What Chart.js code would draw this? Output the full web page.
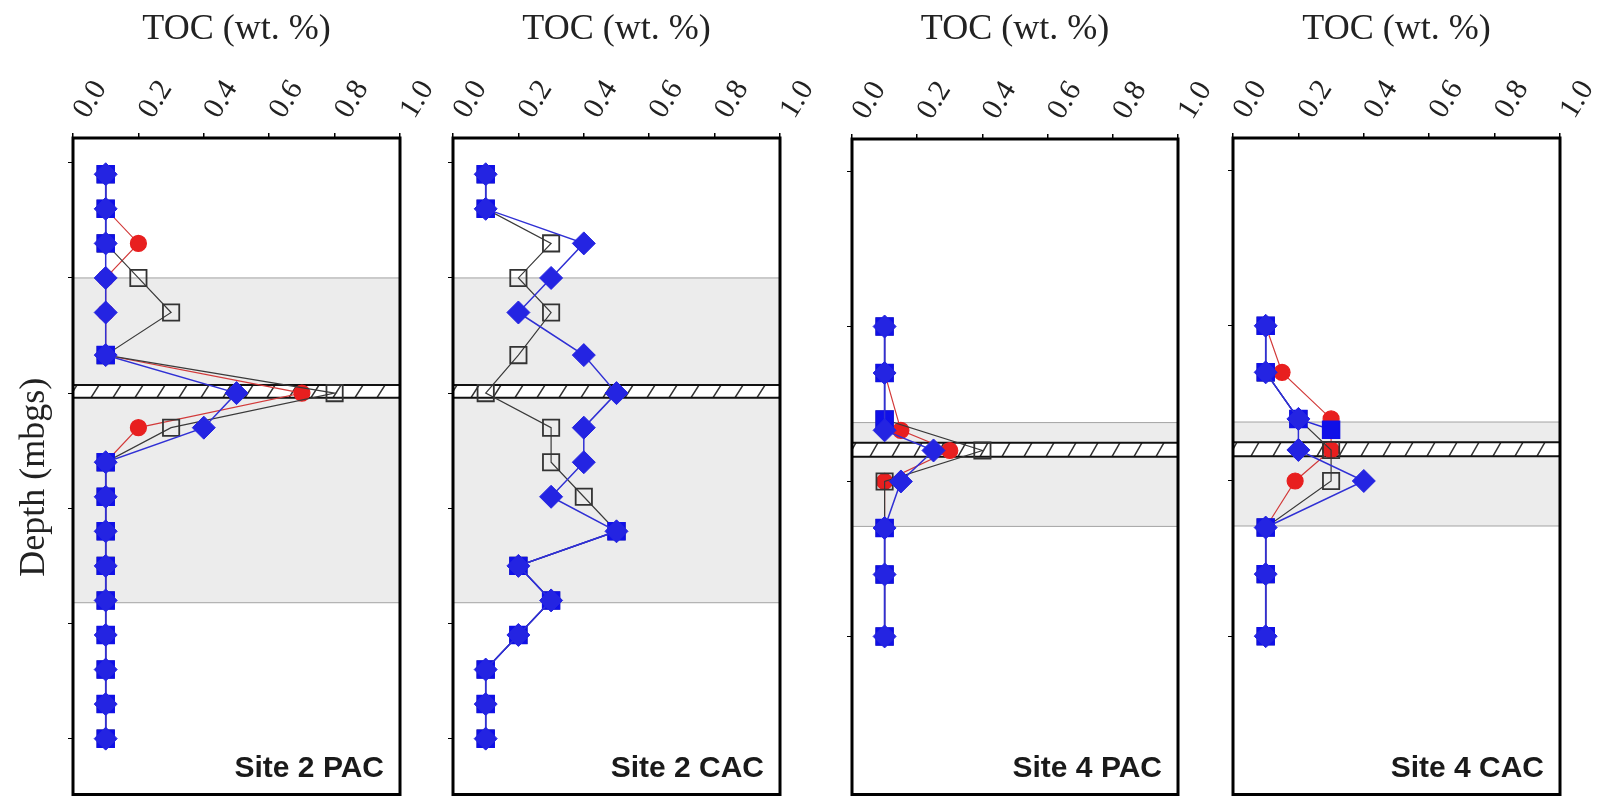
<!doctype html>
<html lang="en">

<head>
    <meta charset="utf-8">
    <title>TOC depth profiles</title>
    <style>
        body { margin: 0; background: #fff; width: 1600px; height: 808px; overflow: hidden; position: relative; }
        canvas { position: absolute; top: 0; }
    </style>
</head>

<body>
    <canvas id="pac2"></canvas>
    <canvas id="cac2"></canvas>
    <canvas id="pac4"></canvas>
    <canvas id="cac4"></canvas>

    <script src="https://cdn.jsdelivr.net/npm/chart.js@4.4.0/dist/chart.umd.min.js"></script>
    <script>
        // sample depths (m below ground surface)
        const depth2 = [1.1, 1.4, 1.7, 2.0, 2.3, 2.67, 3.0, 3.3, 3.6, 3.9, 4.2, 4.5, 4.8, 5.1, 5.4, 5.7, 6.0];
        const depth4 = [2.0, 2.3, 2.6, 2.67, 2.8, 3.0, 3.3, 3.6, 4.0];

        // TOC (wt. %) - Site 2 PAC
        const pac2Red     = [0.1, 0.1, 0.2, 0.1, 0.1, 0.1, 0.7, 0.2, 0.1, 0.1, 0.1, 0.1, 0.1, 0.1, 0.1, 0.1, 0.1];
        const pac2Open    = [0.1, 0.1, 0.1, 0.2, 0.3, 0.1, 0.8, 0.3, 0.1, 0.1, 0.1, 0.1, 0.1, 0.1, 0.1, 0.1, 0.1];
        const pac2Diamond = [0.1, 0.1, 0.1, 0.1, 0.1, 0.1, 0.5, 0.4, 0.1, 0.1, 0.1, 0.1, 0.1, 0.1, 0.1, 0.1, 0.1];
        const pac2Square  = [0.1, 0.1, 0.1, null, null, 0.1, null, null, 0.1, 0.1, 0.1, 0.1, 0.1, 0.1, 0.1, 0.1, 0.1];

        // Site 2 CAC
        const cac2Red     = [null, null, null, null, null, null, null, null, null, null, null, null, null, null, null, null, null];
        const cac2Open    = [0.1, 0.1, 0.3, 0.2, 0.3, 0.2, 0.1, 0.3, 0.3, 0.4, 0.5, 0.2, 0.3, 0.2, 0.1, 0.1, 0.1];
        const cac2Diamond = [0.1, 0.1, 0.4, 0.3, 0.2, 0.4, 0.5, 0.4, 0.4, 0.3, 0.5, 0.2, 0.3, 0.2, 0.1, 0.1, 0.1];
        const cac2Square  = [0.1, 0.1, null, null, null, null, null, null, null, null, 0.5, 0.2, 0.3, 0.2, 0.1, 0.1, 0.1];

        // Site 4 PAC
        const pac4Red     = [0.1, 0.1, null, 0.15, 0.3, 0.1, 0.1, 0.1, 0.1];
        const pac4Open    = [0.1, 0.1, 0.1, null, 0.4, 0.1, 0.1, 0.1, 0.1];
        const pac4Diamond = [0.1, 0.1, null, 0.1, 0.25, 0.15, 0.1, 0.1, 0.1];
        const pac4Square  = [0.1, 0.1, 0.1, null, null, null, 0.1, 0.1, 0.1];

        // Site 4 CAC
        const cac4Red     = [0.1, 0.15, 0.3, null, 0.3, 0.19, 0.1, 0.1, 0.1];
        const cac4Open    = [0.1, 0.1, 0.2, null, 0.3, 0.3, 0.1, 0.1, 0.1];
        const cac4Diamond = [0.1, 0.1, 0.2, null, 0.2, 0.4, 0.1, 0.1, 0.1];
        const cac4Square  = [0.1, 0.1, 0.2, 0.3, null, null, 0.1, 0.1, 0.1];

        // depth intervals: shaded zone and hatched layer
        const shade2 = [2.0, 4.82];
        const hatch2 = [2.93, 3.04];
        const shade4 = [2.62, 3.29];
        const hatch4 = [2.75, 2.84];

        const xTicks = [0, 0.2, 0.4, 0.6, 0.8, 1.0];
        const yTicks2 = [1, 2, 3, 4, 5, 6];
        const yTicks4 = [1, 2, 3, 4];
        const yRange2 = [0.785, 6.485];
        const yRange4 = [0.79, 5.02];

        const siteLabels = ['Site 2 PAC', 'Site 2 CAC', 'Site 4 PAC', 'Site 4 CAC'];
        const xTitle = 'TOC (wt. %)';
        const yTitle = 'Depth (mbgs)';

        const serif = '"Liberation Serif", "DejaVu Serif", serif';
        const AXIS_W = 70;
        const PAD_R = 50;

        const redStyle = {
            pointStyle: 'circle', pointRadius: 8, pointBackgroundColor: '#e81f1f', pointBorderColor: '#e81f1f',
            borderColor: '#d23a3a', borderWidth: 1.2, spanGaps: true
        };
        const openStyle = {
            pointStyle: 'rect', pointRadius: 11.5, pointBackgroundColor: 'rgba(0,0,0,0)', pointBorderColor: '#333',
            pointBorderWidth: 1.8, borderColor: '#3a3a3a', borderWidth: 1.2, spanGaps: true
        };
        const diamondStyle = {
            pointStyle: 'rectRot', pointRadius: 11.5, pointBackgroundColor: '#2424e2', pointBorderColor: '#2424e2',
            pointBorderWidth: 1, borderColor: '#3030d4', borderWidth: 1.5, spanGaps: true
        };
        const squareStyle = {
            pointStyle: 'rect', pointRadius: 12, pointBackgroundColor: '#1010e8', pointBorderColor: '#1010e8',
            pointBorderWidth: 1.5, borderColor: '#2a2ad8', borderWidth: 1.5, spanGaps: false
        };

        function series(depths, values, style) {
            return Object.assign({ data: depths.map((d, i) => ({ x: values[i], y: d })), tension: 0, fill: false }, style);
        }

        const panelDecor = {
            id: 'panelDecor',
            beforeDatasetsDraw(chart, args, opts) {
                const { ctx, chartArea: a, scales: { y } } = chart;
                ctx.save();
                const g0 = y.getPixelForValue(opts.shade[0]);
                const g1 = y.getPixelForValue(opts.shade[1]);
                ctx.fillStyle = '#ececec';
                ctx.fillRect(a.left, g0, a.width, g1 - g0);
                ctx.strokeStyle = '#a3a3a3';
                ctx.lineWidth = 1;
                ctx.beginPath();
                ctx.moveTo(a.left, g0); ctx.lineTo(a.right, g0);
                ctx.moveTo(a.left, g1); ctx.lineTo(a.right, g1);
                ctx.stroke();

                const h0 = y.getPixelForValue(opts.hatch[0]);
                const h1 = y.getPixelForValue(opts.hatch[1]);
                ctx.fillStyle = '#fff';
                ctx.fillRect(a.left, h0, a.width, h1 - h0);
                ctx.save();
                ctx.beginPath();
                ctx.rect(a.left, h0, a.width, h1 - h0);
                ctx.clip();
                ctx.strokeStyle = '#333';
                ctx.lineWidth = 1.5;
                ctx.beginPath();
                for (let x = a.left - 4; x < a.right + 10; x += 22) {
                    ctx.moveTo(x, h1);
                    ctx.lineTo(x + 8, h0);
                }
                ctx.stroke();
                ctx.restore();
                ctx.strokeStyle = '#111';
                ctx.lineWidth = 2;
                ctx.beginPath();
                ctx.moveTo(a.left, h0); ctx.lineTo(a.right, h0);
                ctx.moveTo(a.left, h1); ctx.lineTo(a.right, h1);
                ctx.stroke();
                ctx.restore();
            },
            afterDraw(chart, args, opts) {
                const { ctx, chartArea: a } = chart;
                ctx.save();
                ctx.strokeStyle = '#000';
                ctx.lineWidth = 3;
                ctx.strokeRect(a.left, a.top, a.width, a.height);
                ctx.fillStyle = '#1a1a1a';
                ctx.font = 'bold 30px "Liberation Sans", Arial, sans-serif';
                ctx.textAlign = 'right';
                ctx.textBaseline = 'alphabetic';
                ctx.fillText(opts.label, a.right - 16, a.bottom - 18);
                if (opts.yTitle) {
                    // depth axis title, placed like the original figure
                    ctx.translate(a.left - 38, (a.top + a.bottom) / 2 + 11);
                    ctx.rotate(-Math.PI / 2);
                    ctx.fillStyle = '#222';
                    ctx.font = '36px ' + serif;
                    ctx.textAlign = 'center';
                    ctx.textBaseline = 'middle';
                    ctx.fillText(opts.yTitle, 0, 0);
                }
                ctx.restore();
            }
        };

        const panels = [
            { id: 'pac2', label: siteLabels[0], depth: depth2, red: pac2Red, open: pac2Open, diamond: pac2Diamond, square: pac2Square,
              yRange: yRange2, yTicks: yTicks2, shade: shade2, hatch: hatch2, frame: [73, 138, 400, 802], yTitle: yTitle },
            { id: 'cac2', label: siteLabels[1], depth: depth2, red: cac2Red, open: cac2Open, diamond: cac2Diamond, square: cac2Square,
              yRange: yRange2, yTicks: yTicks2, shade: shade2, hatch: hatch2, frame: [453, 138, 780, 802], yTitle: null },
            { id: 'pac4', label: siteLabels[2], depth: depth4, red: pac4Red, open: pac4Open, diamond: pac4Diamond, square: pac4Square,
              yRange: yRange4, yTicks: yTicks4, shade: shade4, hatch: hatch4, frame: [852, 139, 1178, 803], yTitle: null },
            { id: 'cac4', label: siteLabels[3], depth: depth4, red: cac4Red, open: cac4Open, diamond: cac4Diamond, square: cac4Square,
              yRange: yRange4, yTicks: yTicks4, shade: shade4, hatch: hatch4, frame: [1233, 138, 1560, 803], yTitle: null }
        ];

        panels.forEach(p => {
            const [fl, ft, fr, fb] = p.frame;
            const canvas = document.getElementById(p.id);
            canvas.width = AXIS_W + (fr - fl) + PAD_R;
            canvas.height = 808;
            canvas.style.left = (fl - AXIS_W) + 'px';

            new Chart(canvas, {
                type: 'line',
                data: {
                    datasets: [
                        series(p.depth, p.diamond, diamondStyle),
                        series(p.depth, p.square, squareStyle),
                        series(p.depth, p.open, openStyle),
                        series(p.depth, p.red, redStyle)
                    ]
                },
                options: {
                    responsive: false,
                    animation: false,
                    layout: { padding: { left: 0, top: 0, right: PAD_R, bottom: 808 - fb } },
                    plugins: {
                        legend: { display: false },
                        tooltip: { enabled: false },
                        panelDecor: { shade: p.shade, hatch: p.hatch, label: p.label, yTitle: p.yTitle }
                    },
                    scales: {
                        x: {
                            type: 'linear',
                            position: 'top',
                            min: 0,
                            max: 1,
                            afterFit: s => { s.height = ft; },
                            afterBuildTicks: s => { s.ticks = xTicks.map(v => ({ value: v })); },
                            ticks: {
                                minRotation: 58,
                                maxRotation: 58,
                                padding: 8,
                                labelOffset: 38,
                                autoSkip: false,
                                color: '#222',
                                font: { family: serif, size: 30 },
                                callback: v => Number(v).toFixed(1)
                            },
                            title: {
                                display: true,
                                text: xTitle,
                                color: '#222',
                                font: { family: serif, size: 36 },
                                padding: { top: 8, bottom: 0 }
                            },
                            grid: { drawOnChartArea: false, drawTicks: true, tickLength: 5, color: '#000', lineWidth: 1.5 },
                            border: { display: false }
                        },
                        y: {
                            type: 'linear',
                            reverse: true,
                            min: p.yRange[0],
                            max: p.yRange[1],
                            afterFit: s => { s.width = AXIS_W; },
                            afterBuildTicks: s => { s.ticks = p.yTicks.map(v => ({ value: v })); },
                            ticks: { display: false },
                            grid: { drawOnChartArea: false, drawTicks: true, tickLength: 5, color: '#000', lineWidth: 1 },
                            border: { display: false }
                        }
                    }
                },
                plugins: [panelDecor]
            });
        });
    </script>
</body>

</html>
